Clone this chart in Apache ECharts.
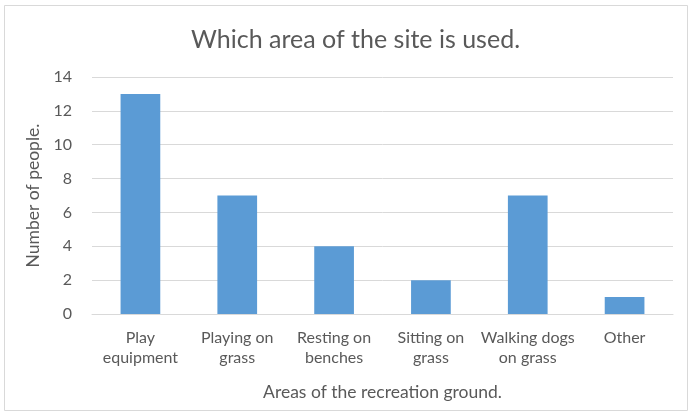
<!DOCTYPE html>
<html>
<head>
<meta charset="utf-8">
<script src="https://cdn.jsdelivr.net/npm/echarts@6/dist/echarts.min.js"></script>
<style>
  html, body { margin: 0; padding: 0; background: #fff; }
  #main { width: 692px; height: 416px; }
</style>
</head>
<body>
<div id="main"></div>
<script>
const categories = ['Play\nequipment', 'Playing on\ngrass', 'Resting on\nbenches', 'Sitting on\ngrass', 'Walking dogs\non grass', 'Other']
const people = [13, 7, 4, 2, 7, 1]
const yTicks = {min: 0, max: 14, interval: 2}

const textColor = '#595959'
const font = 'Lato'

let myChart = echarts.init(document.getElementById('main'))

let option = {
    backgroundColor: '#fff',
    animation: false,
    title: {
        text: 'Which area of the site is used.',
        left: 186,
        top: 22,
        textStyle: {
            color: textColor,
            fontFamily: font,
            fontWeight: 'normal',
            fontSize: 25
        }
    },
    graphic: [{
        type: 'rect',
        shape: {x: 4.5, y: 5.5, width: 683, height: 405},
        style: {fill: 'none', stroke: '#d9d9d9', lineWidth: 1},
        silent: true
    }],
    grid: {
        left: 92,
        right: 19,
        top: 77,
        bottom: 102
    },
    xAxis: {
        type: 'category',
        data: categories,
        name: 'Areas of the recreation ground.',
        nameLocation: 'middle',
        nameGap: 69,
        nameTextStyle: {color: textColor, fontFamily: font, fontSize: 17.5},
        axisLine: {lineStyle: {color: '#d9d9d9'}},
        axisTick: {show: false},
        axisLabel: {
            color: textColor,
            fontFamily: font,
            fontSize: 16,
            lineHeight: 20,
            margin: 14,
            interval: 0
        }
    },
    yAxis: {
        type: 'value',
        min: yTicks.min,
        max: yTicks.max,
        interval: yTicks.interval,
        name: 'Number of people.',
        nameLocation: 'middle',
        nameGap: 46,
        nameTextStyle: {color: textColor, fontFamily: font, fontSize: 17.5},
        axisLine: {show: false},
        axisTick: {show: false},
        axisLabel: {color: textColor, fontFamily: font, fontSize: 16, margin: 20},
        splitLine: {lineStyle: {color: '#d9d9d9'}}
    },
    series: [{
        type: 'bar',
        data: people,
        barWidth: '41%',
        itemStyle: {color: '#5b9bd5'}
    }]
}

myChart.setOption(option)
</script>
</body>
</html>
